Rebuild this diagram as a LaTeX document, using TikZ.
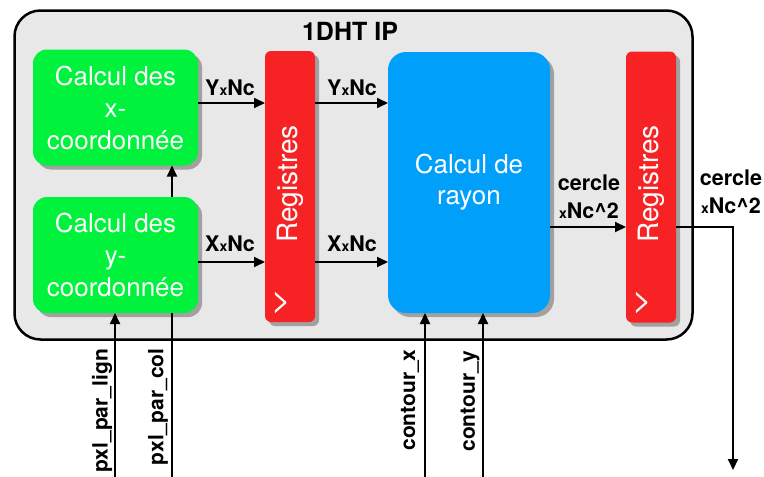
\documentclass[tikz,border=0pt]{standalone}
\usepackage{fontspec}
\setmainfont{TeX Gyre Heros}
\usepackage{tikz}
\usetikzlibrary{arrows.meta, shadows, calc}
\definecolor{ipgray}{RGB}{232, 232, 232}
\definecolor{calcgreen}{RGB}{0, 242, 60}
\definecolor{regred}{RGB}{246, 34, 36}
\definecolor{rayblue}{RGB}{0, 160, 250}
\newcommand{\sx}{{\fontsize{14}{14}\selectfont x}}

\begin{document}
\begin{tikzpicture}[x=1pt, y=-1pt,
    shd/.style={drop shadow={shadow xshift=4pt, shadow yshift=-4pt, opacity=0.45, fill=black!70}},
    cb/.style={shd, fill=calcgreen, rounded corners=14pt, minimum width=165pt, minimum height=116pt,
               inner sep=0pt, outer sep=0pt, align=center, text=white, font=\fontsize{26}{32}\selectfont},
    rg/.style={shd, fill=regred, rounded corners=6pt, minimum width=50pt, minimum height=271pt,
               inner sep=0pt, outer sep=0pt},
    rb/.style={shd, fill=rayblue, rounded corners=18pt, minimum width=162pt, minimum height=261pt,
               inner sep=0pt, outer sep=0pt, align=center, text=white, font=\fontsize{26}{31}\selectfont},
    rt/.style={rotate=90, text=white, font=\fontsize{28}{28}\selectfont},
    ck/.style={text=white, font=\fontsize{34}{34}\selectfont},
    lb/.style={font=\bfseries\fontsize{21.5}{28}\selectfont, align=center, inner sep=0pt},
    il/.style={rotate=90, font=\bfseries\fontsize{21}{21}\selectfont, inner sep=0pt},
    ar/.style={-{Triangle[length=11pt, width=10pt]}, line width=2pt},
    ln/.style={line width=2pt}]
  \useasboundingbox (0,0) rectangle (764,477);
  % frame of the IP
  \node[draw=black, line width=2.5pt, fill=ipgray, rounded corners=26pt, minimum width=678pt,
        minimum height=329pt, inner sep=0pt] (ip) at (353.5,175) {};
  \node[font=\bfseries\fontsize{25}{25}\selectfont] (ipt) at (350,31) {1DHT IP};
  % blocks
  \node[cb] (gx) at (115.5,107.5) {Calcul des\\x-\\coordonnée};
  \node[cb] (gy) at (115.5,255) {Calcul des\\y-\\coordonnée};
  \node[rg] (r1) at (290,186.5) {};
  \node[rt] (r1t) at (290,184) {Registres};
  \node[ck] (r1c) at (281,303) {>};
  \node[rb] (ray) at (469,182.5) {Calcul de\\rayon};
  \node[rg] (r2) at (651,187) {};
  \node[rt] (r2t) at (651,184) {Registres};
  \node[ck] (r2c) at (642,303) {>};
  % connections inside
  \draw[ar] (172,197) coordinate (gyn) -- (gyn |- gx.south);
  \draw[ar] (gx.east |- 0,103) coordinate (y0) -- (y0 -| r1.west);
  \draw[ar] (r1.east |- 0,103) coordinate (y1) -- (y1 -| ray.west);
  \draw[ar] (gy.east |- 0,262) coordinate (x0) -- (x0 -| r1.west);
  \draw[ar] (r1.east |- 0,262) coordinate (x1) -- (x1 -| ray.west);
  \draw[ar] (ray.east |- 0,227) coordinate (c0) -- (c0 -| r2.west);
  \node[lb] (y0t) at (230,88) {Y\sx Nc};
  \node[lb] (y1t) at (352,88) {Y\sx Nc};
  \node[lb] (x0t) at (230,244) {X\sx Nc};
  \node[lb] (x1t) at (352,244) {X\sx Nc};
  \node[lb] (c0t) at (589,197) {cercle\\\sx Nc\textasciicircum 2};
  % inputs and output
  \coordinate (pl) at (115,477);
  \coordinate (pc) at (172,477);
  \coordinate (cx) at (425,477);
  \coordinate (cy) at (483,477);
  \coordinate (out) at (733,470);
  \draw[ar] (pl) -- (pl |- gy.south);
  \draw[ln] (pc) -- (pc |- gy.south);
  \draw[ar] (cx) -- (cx |- ray.south);
  \draw[ar] (cy) -- (cy |- ray.south);
  \draw[ar] (r2.east |- 0,227) -- (out |- 0,227) -- (out);
  \node[il] (plt) at (102,411) {pxl\_par\_lign};
  \node[il] (pct) at (158,407) {pxl\_par\_col};
  \node[il] (cxt) at (410,400) {contour\_x};
  \node[il] (cyt) at (470,401) {contour\_y};
  \node[lb] (outt) at (731,192) {cercle\\\sx Nc\textasciicircum 2};
\end{tikzpicture}
\end{document}
